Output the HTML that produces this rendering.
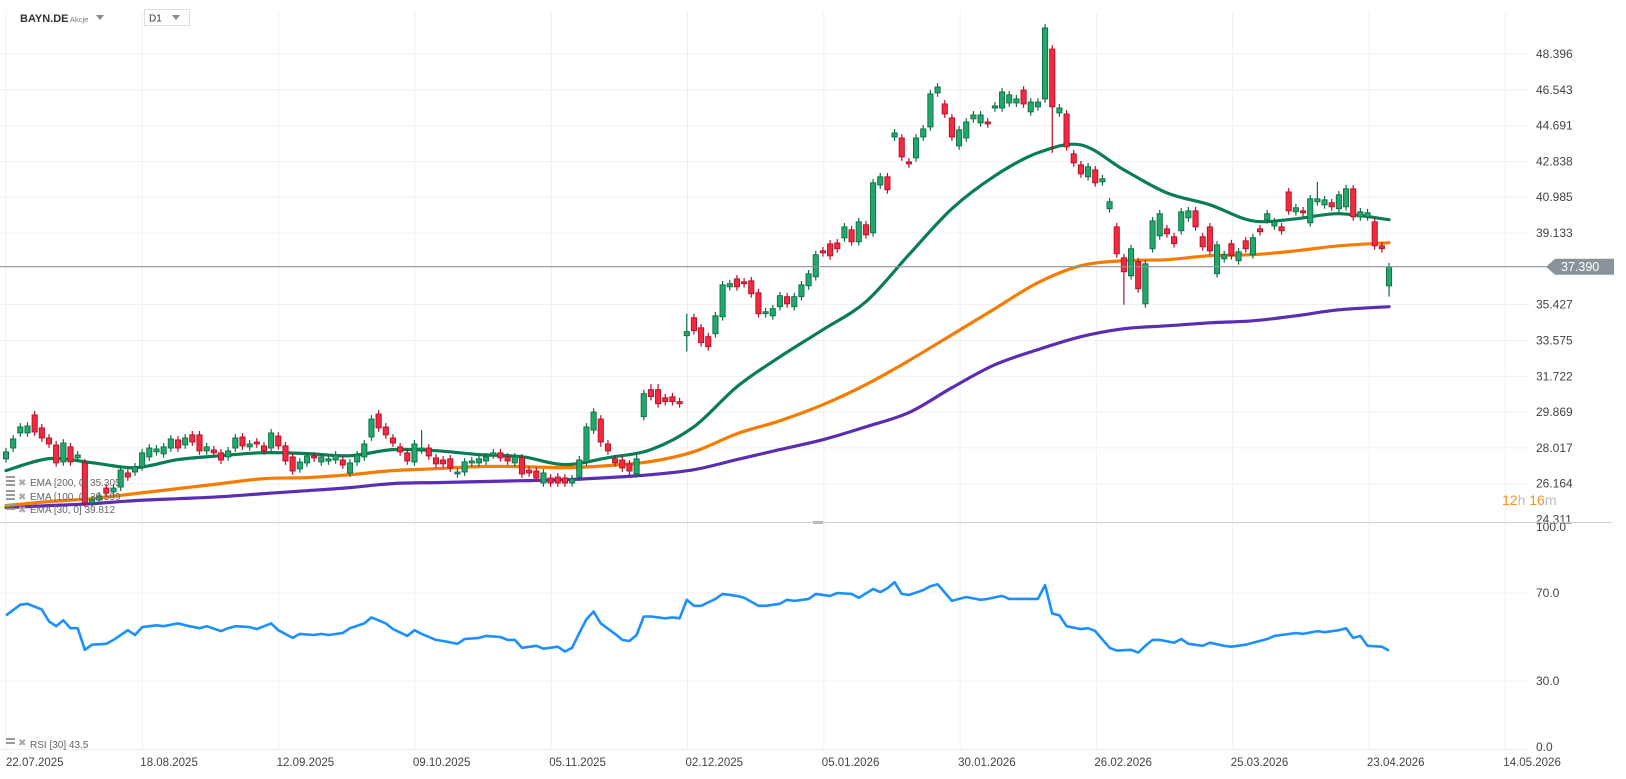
<!DOCTYPE html>
<html><head><meta charset="utf-8"><style>
html,body{margin:0;padding:0;background:#fff;width:1626px;height:779px;overflow:hidden;font-family:"Liberation Sans",sans-serif}
svg{display:block}
</style></head><body>
<svg id="chart" width="1626" height="779" viewBox="0 0 1626 779" xmlns="http://www.w3.org/2000/svg" font-family="Liberation Sans, sans-serif">
<g id="grid"></g>
<g id="emas"></g>
<g id="candles"></g>
<g id="rsi"></g>
<g id="axes"></g>
<g>
  <text x="20" y="22" font-size="11" font-weight="bold" fill="#333">BAYN.DE</text>
  <text x="70" y="22" font-size="7.5" fill="#777">Akcje</text>
  <path d="M96 15 L104 15 L100 20 Z" fill="#888"/>
  <rect x="144.5" y="9.5" width="45" height="16" fill="#fff" stroke="#ddd"/>
  <text x="149" y="21.5" font-size="10" fill="#333">D1</text>
  <path d="M172 15 L180 15 L176 20 Z" fill="#888"/>
</g>
<g>
  <g><rect x="6" y="476" width="9" height="2" fill="#999"/><rect x="6" y="480" width="9" height="2" fill="#999"/><rect x="6" y="484" width="9" height="2" fill="#999"/><text x="18" y="486" font-size="10" fill="#aaa">✖</text><text x="30" y="486" font-size="10" fill="#666">EMA [200, 0] 35.305</text></g>
  <g><rect x="6" y="490" width="9" height="2" fill="#999"/><rect x="6" y="494" width="9" height="2" fill="#999"/><rect x="6" y="498" width="9" height="2" fill="#999"/><text x="18" y="500" font-size="10" fill="#aaa">✖</text><text x="30" y="500" font-size="10" fill="#666">EMA [100, 0] 38.599</text></g>
  <g><rect x="6" y="504" width="9" height="2" fill="#999"/><rect x="6" y="508" width="9" height="2" fill="#999"/><text x="18" y="513" font-size="10" fill="#aaa">✖</text><text x="30" y="513" font-size="10" fill="#666">EMA [30, 0] 39.812</text></g>
  <g><rect x="6" y="738" width="9" height="2" fill="#999"/><rect x="6" y="742" width="9" height="2" fill="#999"/><text x="18" y="746" font-size="10" fill="#aaa">✖</text><text x="30" y="748" font-size="10" fill="#666">RSI [30] 43.5</text></g>
</g>
<text x="1502" y="505" font-size="14"><tspan fill="#f7931e">12</tspan><tspan fill="#bbb">h </tspan><tspan fill="#f7931e">16</tspan><tspan fill="#bbb">m</tspan></text>
</svg>
<script>
const NS="http://www.w3.org/2000/svg";
const opens=[27.45,28.01,28.79,28.79,29.72,29.05,28.53,28.17,27.29,28.07,
27.50,27.24,25.17,25.32,25.94,25.74,25.99,26.72,26.77,27.03,
27.55,27.81,27.71,28.01,28.43,28.17,28.69,28.69,27.86,27.91,
27.76,27.55,28.01,28.58,28.07,28.32,28.12,28.01,28.63,28.12,
27.55,26.93,27.24,27.60,27.29,27.34,27.39,27.39,26.72,27.29,
27.55,28.58,29.77,29.10,28.53,28.07,27.76,27.29,27.91,28.01,
27.50,27.39,27.45,26.67,26.77,27.24,27.24,27.34,27.65,27.76,
27.55,27.24,27.50,26.87,26.82,26.20,26.46,26.51,26.46,26.20,
26.51,27.29,28.94,29.51,28.22,27.45,27.39,27.19,26.67,29.63,
31.03,31.03,30.61,30.66,30.41,33.82,34.75,34.23,33.77,33.92,
34.80,36.35,36.76,36.61,36.66,36.04,34.96,34.85,35.32,35.84,
35.32,35.84,36.40,36.87,38.21,38.57,38.62,38.88,39.30,38.68,
39.56,39.14,41.62,42.04,44.10,44.05,42.81,43.02,44.10,44.62,
46.38,45.81,45.09,43.64,44.05,45.04,44.83,44.88,45.60,45.60,
45.86,45.86,46.53,45.40,45.66,46.07,48.65,45.35,45.29,43.23,
42.66,42.04,42.40,41.78,40.39,39.45,37.85,36.92,37.65,35.47,
38.32,38.99,39.35,38.94,39.25,39.92,40.28,38.94,39.45,37.03,
37.80,38.58,37.70,38.73,38.01,39.35,39.82,39.50,39.45,41.26,
40.23,40.28,39.66,40.75,40.59,40.70,40.39,40.49,41.42,39.97,
39.97,39.71,38.47,36.40];
const closes=[27.81,28.48,29.10,29.15,28.84,28.53,28.22,27.24,28.27,27.29,
27.65,25.17,25.32,25.53,25.68,25.94,26.87,26.51,27.03,27.76,
28.01,27.96,28.07,28.48,28.01,28.53,28.32,27.86,28.07,27.76,
27.39,27.86,28.53,28.12,28.22,28.22,27.86,28.79,28.12,27.34,
26.82,27.29,27.60,27.50,27.55,27.45,27.65,27.13,27.24,27.65,
28.22,29.51,29.05,28.69,28.27,27.81,27.34,28.22,28.01,27.60,
27.19,27.19,26.98,26.77,27.29,27.34,27.45,27.55,27.76,27.50,
27.34,27.55,26.67,26.72,26.46,26.72,26.20,26.20,26.20,26.41,
27.39,29.10,29.87,28.32,27.86,27.24,26.98,26.82,27.45,30.82,
30.67,30.30,30.41,30.41,30.30,34.03,34.08,33.46,33.25,34.85,
36.45,36.51,36.35,36.51,35.99,34.96,35.06,35.22,35.89,35.47,
35.84,36.45,37.02,38.01,38.11,37.95,38.32,39.45,38.68,39.71,
39.04,41.73,42.04,41.37,44.31,43.07,42.71,44.05,44.52,46.33,
46.69,45.29,44.10,44.47,44.88,45.24,45.24,44.78,45.71,46.43,
46.28,46.07,45.81,45.91,45.91,49.74,45.66,45.60,43.59,42.76,
42.19,42.56,41.73,41.94,40.75,38.06,37.13,38.32,36.25,37.54,
39.76,40.13,39.09,38.58,40.23,40.28,39.45,38.42,38.21,38.52,
38.01,37.96,38.16,38.32,38.89,39.20,40.13,39.71,39.25,40.28,
40.44,40.18,40.90,40.90,40.85,40.49,41.11,41.42,39.97,40.23,
40.18,38.47,38.32,37.39];
const lowIdx=[11,83,95,146,156,158,159,193];
const lowVal=[25.05,28.07,33.00,43.28,35.42,36.09,35.27,35.84];
const highIdx=[58,90,91,95,183];
const highVal=[28.94,31.33,31.33,34.96,41.78];
const emaIdx=[0,6,12,18,24,30,36,42,48,54,60,66,72,78,84,90,96,102,108,114,120,126,132,138,144,150,156,162,168,174,180,186,193];
const ema30=[26.84,27.46,27.25,26.99,27.41,27.61,27.77,27.72,27.61,27.93,27.87,27.67,27.56,27.15,27.51,27.93,29.11,31.18,32.73,34.13,35.58,38.01,40.39,42.09,43.28,43.69,42.40,41.21,40.59,39.76,39.87,40.13,39.82];
const ema100=[25.03,25.24,25.39,25.65,25.91,26.17,26.43,26.48,26.63,26.84,26.94,27.05,27.05,26.99,27.10,27.31,27.82,28.75,29.42,30.25,31.29,32.53,33.87,35.22,36.56,37.44,37.70,37.75,37.96,38.01,38.21,38.47,38.63];
const ema200=[24.93,25.03,25.13,25.29,25.39,25.49,25.65,25.80,25.96,26.17,26.22,26.27,26.32,26.37,26.48,26.63,26.89,27.41,27.93,28.44,29.11,29.84,31.13,32.32,33.10,33.77,34.18,34.33,34.49,34.59,34.85,35.16,35.32];
const rsiIdx=[0,2,3,5,6,7,8,9,10,11,12,14,15,17,18,19,21,22,24,25,27,28,30,31,32,34,35,37,38,40,41,43,44,45,47,48,50,51,53,54,56,57,58,60,61,63,64,66,67,69,70,71,72,74,75,77,78,79,80,81,82,83,85,86,87,88,89,90,92,93,94,95,96,97,99,100,102,103,105,106,108,109,110,112,113,115,116,118,119,121,122,123,124,125,126,128,129,130,132,133,134,136,137,139,140,142,144,145,146,147,148,150,151,152,154,155,157,158,159,160,161,163,164,165,167,168,170,171,173,174,176,177,178,180,181,183,184,186,187,188,189,190,192,193];
const rsiVal=[59.8,64.7,65.1,62.5,57.1,54.9,57.6,54.0,54.0,44.2,46.5,46.9,48.7,53.1,50.9,54.5,55.3,54.9,56.2,55.3,54.0,54.9,52.7,54.0,54.9,54.5,53.6,56.2,53.1,49.6,51.4,50.9,51.4,50.9,51.8,54.0,56.2,58.9,56.2,53.6,50.5,53.1,51.4,48.7,48.2,46.9,49.1,49.6,50.5,50.0,48.7,48.7,45.1,46.0,44.7,45.6,43.4,45.1,51.8,58.0,61.6,56.2,51.4,48.7,48.2,50.9,59.3,59.3,58.5,58.9,58.5,66.9,64.2,64.2,67.3,69.6,68.7,67.8,64.2,64.2,65.1,66.9,66.4,67.3,69.6,68.7,70.0,69.6,67.8,71.8,70.4,72.2,74.9,69.6,69.1,71.3,73.1,74.0,66.4,67.3,68.2,66.9,67.3,68.7,67.3,67.3,67.3,73.6,60.7,59.8,54.9,53.6,54.0,52.7,45.1,43.8,44.2,42.9,46.0,48.7,48.7,47.4,49.1,46.9,46.0,47.4,46.0,45.6,46.5,47.4,49.1,50.5,50.9,51.8,51.4,52.7,52.2,53.1,54.0,49.6,50.5,46.0,45.6,43.8];
const priceTicks=[48.396,46.543,44.691,42.838,40.985,39.133,35.427,33.575,31.722,29.869,28.017,26.164,24.311];
const rsiTicks=[100,70,30,0];
const rsiTickLabels=["100.0","70.0","30.0","0.0"];
const dateLabels=["22.07.2025","18.08.2025","12.09.2025","09.10.2025","05.11.2025","02.12.2025","05.01.2026","30.01.2026","26.02.2026","25.03.2026","23.04.2026","14.05.2026"];
const lastPrice=37.39;

function X(i){return 6+7.166*i;}
function Y(p){return 266.7-(p-37.39)*19.33;}
function R(v){return 747-v*2.2;}
function mk(tag,attrs,parent){const e=document.createElementNS(NS,tag);for(const k in attrs)e.setAttribute(k,attrs[k]);parent.appendChild(e);return e;}
function smoothPath(pts){
  let d='M'+pts[0][0].toFixed(1)+' '+pts[0][1].toFixed(1);
  for(let k=0;k<pts.length-1;k++){
    const p0=pts[Math.max(0,k-1)],p1=pts[k],p2=pts[k+1],p3=pts[Math.min(pts.length-1,k+2)];
    const c1x=p1[0]+(p2[0]-p0[0])/6,c1y=p1[1]+(p2[1]-p0[1])/6;
    const c2x=p2[0]-(p3[0]-p1[0])/6,c2y=p2[1]-(p3[1]-p1[1])/6;
    d+=` C${c1x.toFixed(1)} ${c1y.toFixed(1)} ${c2x.toFixed(1)} ${c2y.toFixed(1)} ${p2[0].toFixed(1)} ${p2[1].toFixed(1)}`;
  }
  return d;
}

const grid=document.getElementById('grid');
const axes=document.getElementById('axes');
dateLabels.forEach((d,k)=>{
  const gx=6+136.3*k;
  const l=mk('line',{x1:gx,y1:12,x2:gx,y2:750,stroke:'#f0f0f0','stroke-width':1},grid);
  
  
  const t=mk('text',{x:gx+(k==0?0:-2),y:766,'font-size':11.5,fill:'#444'},axes);
  t.textContent=d;
  
  
});
priceTicks.forEach(p=>{
  const y=Y(p);
  if(p>24.5){const l=mk('line',{x1:0,y1:y,x2:1530,y2:y,stroke:'#f0f0f0','stroke-width':1},grid);
  
  }
  const t=mk('text',{x:1536,y:y+4,'font-size':12,fill:'#444'},axes);
  t.textContent=p.toFixed(3);
  
  
});
rsiTicks.forEach((v,k)=>{
  const y=R(v);
  if(v==70||v==30){const l=mk('line',{x1:0,y1:y,x2:1530,y2:y,stroke:'#f0f0f0','stroke-width':1},grid);
  
  }
  const t=mk('text',{x:1536,y:y+4,'font-size':12,fill:'#444'},axes);
  t.textContent=rsiTickLabels[k];
  
  
});
const sep=mk('line',{x1:0,y1:522.5,x2:1612,y2:522.5,stroke:'#cfcfcf','stroke-width':1},axes);


const hnd=mk('rect',{x:813,y:521,width:10,height:3,fill:'#bbb'},axes);


const bl=mk('line',{x1:0,y1:749.5,x2:1530,y2:749.5,stroke:'#eee','stroke-width':1},axes);



const emas=document.getElementById('emas');
function line(vals,color,name){
  const pts=emaIdx.map((i,k)=>[X(i),Y(vals[k])]);
  const pl=mk('path',{d:smoothPath(pts),fill:'none',stroke:color,'stroke-width':3.2,'stroke-linejoin':'round','stroke-linecap':'round'},emas);
  
  
}
line(ema200,'#5b2db3','ema-200-line');
line(ema100,'#f57c00','ema-100-line');
line(ema30,'#0b7d52','ema-30-line');

const pl=mk('line',{x1:0,y1:Y(lastPrice),x2:1556,y2:Y(lastPrice),stroke:'#8a9399','stroke-width':1.2},axes);


const yp=Y(lastPrice);
const tag=mk('path',{d:`M1546 ${yp} L1555 ${yp-8} L1614 ${yp-8} L1614 ${yp+8} L1555 ${yp+8} Z`,fill:'#8a9399'},axes);


const tt=mk('text',{x:1561,y:yp+4.5,'font-size':12.5,fill:'#fff'},axes);
tt.textContent=lastPrice.toFixed(3);



const cg=document.getElementById('candles');
opens.forEach((o,i)=>{
  const c=closes[i];
  const up=c>=o;
  let hi=Math.max(o,c)+0.2, lo=Math.min(o,c)-0.2;
  const hk=highIdx.indexOf(i); if(hk>=0) hi=Math.max(hi,highVal[hk]);
  const lk=lowIdx.indexOf(i); if(lk>=0) lo=Math.min(lo,lowVal[lk]);
  const x=X(i);
  const stroke=up?'#0f6e45':'#b3102a', fill=up?'#22a86b':'#f22a40';
  const g=mk('g',{},cg);
  
  
  mk('line',{x1:x,y1:Y(hi),x2:x,y2:Y(lo),stroke:stroke,'stroke-width':1.2},g);
  const top=Y(Math.max(o,c)), h=Math.max(1.5,Y(Math.min(o,c))-top);
  mk('rect',{x:x-2.6,y:top,width:5.2,height:h,fill:fill,stroke:stroke,'stroke-width':0.9},g);
});

const rg=document.getElementById('rsi');
const rp=mk('polyline',{points:rsiIdx.map((i,k)=>X(i).toFixed(1)+','+R(rsiVal[k]).toFixed(1)).join(' '),fill:'none',stroke:'#1e8fff','stroke-width':2.6,'stroke-linejoin':'round'},rg);


</script>
</body></html>
